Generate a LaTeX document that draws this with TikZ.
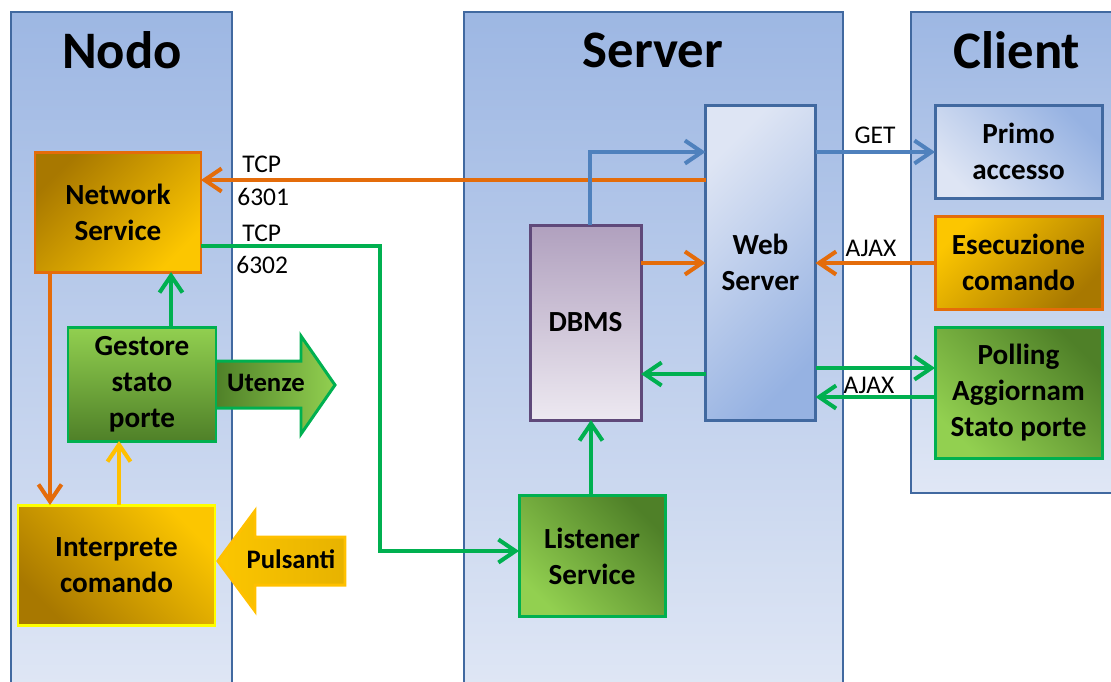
\documentclass[tikz,border=0pt]{standalone}
\usepackage{fontspec}
\setmainfont{Carlito}
\usetikzlibrary{arrows.meta}
\definecolor{colborder}{RGB}{65,105,160}
\definecolor{coltop}{RGB}{157,183,227}
\definecolor{colbot}{RGB}{224,231,245}
\definecolor{lorange}{RGB}{228,108,10}
\definecolor{lgreen}{RGB}{0,176,80}
\definecolor{lblue}{RGB}{79,129,189}
\definecolor{lyellow}{RGB}{255,192,0}
\definecolor{darkgold}{RGB}{168,120,0}
\definecolor{brightgold}{RGB}{252,198,0}
\definecolor{lightgr}{RGB}{146,208,80}
\definecolor{darkgr}{RGB}{79,128,40}
\definecolor{dbtop}{RGB}{176,160,190}
\definecolor{dbbot}{RGB}{237,233,241}
\definecolor{dbborder}{RGB}{95,73,122}
\definecolor{wslight}{RGB}{222,229,244}
\definecolor{wsblue}{RGB}{150,178,226}
\definecolor{yborder}{RGB}{255,255,0}
\begin{document}
\begin{tikzpicture}[x=0.02cm,y=-0.02cm,
  column/.style={draw=colborder, line width=1.4pt, top color=coltop, bottom color=colbot},
  title/.style={font=\fontsize{30}{36}\selectfont\bfseries, inner sep=0pt},
  box/.style 2 args={minimum width=#1*0.02cm, minimum height=#2*0.02cm, inner sep=0pt, outer sep=0pt, line width=1.7pt, align=center, font=\fontsize{16.6}{20.5}\selectfont\bfseries},
  goldTL/.style={draw=lorange, top color=darkgold, bottom color=brightgold, shading angle=45},
  goldTLy/.style={draw=lorange, top color=brightgold, bottom color=darkgold, shading angle=45},
  goldBL/.style={draw=yborder, top color=brightgold, bottom color=darkgold, shading angle=-45},
  greenV/.style={draw=lgreen, top color=lightgr, bottom color=darkgr},
  greenBL/.style={draw=lgreen, top color=darkgr, bottom color=lightgr, shading angle=-45},
  dbstyle/.style={draw=dbborder, top color=dbtop, bottom color=dbbot},
  wsstyle/.style={draw=colborder, top color=wslight, bottom color=wsblue, shading angle=45},
  pastyle/.style={draw=colborder, top color=wsblue, bottom color=wslight, shading angle=-45},
  conn/.style={line width=2.3pt, -{Straight Barb[length=3.4mm,width=4.6mm]}},
  lbl/.style={font=\fontsize{14.5}{17}\selectfont, inner sep=0pt},
  arrowtxt/.style={font=\fontsize{15.2}{18}\selectfont\bfseries, inner sep=0pt}
]
\useasboundingbox (0,0) rectangle (1111,681);
% columns
\path[column] (11,12) rectangle (232,700);
\path[column] (464,12) rectangle (843,700);
\path[column] (911,12) rectangle (1125,493);
\node[title] (tnodo) at (122,50) {Nodo};
\node[title] (tserver) at (653,50) {Server};
\node[title] (tclient) at (1017,50) {Client};

% big arrows
\path[draw=lgreen, line width=1.7pt, left color=darkgr, right color=lightgr]
  (215,361) -- (301,361) -- (301,336) -- (335,385) -- (301,434) -- (301,408) -- (215,408) -- cycle;
\node[arrowtxt] (utenze) at (266,383) {Utenze};
\path[draw=lyellow, line width=1.7pt, left color=brightgold, right color=brightgold!75!darkgold]
  (345,537) -- (255,537) -- (255,511) -- (218,561) -- (255,611) -- (255,585) -- (345,585) -- cycle;
\node[arrowtxt] (pulsanti) at (291,559) {Pulsanti};

% boxes
\node[box={166}{120}, goldTL] (ns) at (118,212) {Network\\Service};
\node[box={148}{114}, greenV] (gs) at (142,384) {Gestore\\stato\\porte};
\node[box={197}{120}, goldBL] (ic) at (116.5,565) {Interprete\\comando};
\node[box={111}{195}, dbstyle] (db) at (585.5,322.5) {DBMS};
\node[box={110}{315}, wsstyle] (ws) at (760.5,262.5) {Web\\Server};
\node[box={146}{121}, greenBL] (ls) at (592,556) {Listener\\Service};
\node[box={167}{93}, pastyle] (pa) at (1018.5,151.5) {Primo\\accesso};
\node[box={167}{93}, goldTLy] (ec) at (1018.5,262.5) {Esecuzione\\comando};
\node[box={167}{131}, greenBL] (pol) at (1018.5,392.5) {Polling\\Aggiornam\\Stato porte};

% connectors
\draw[conn, lorange] (ws.west |- 0,180) -- (ns.east |- 0,180);
\node[lbl, anchor=west] (tcp1) at (242,164) {TCP};
\node[lbl, anchor=west] (p6301) at (237,197) {6301};
\draw[conn, lgreen] (ns.east |- 0,246) -- (380,246) -- (380,551) -- (ls.west |- 0,551);
\node[lbl, anchor=west] (tcp2) at (242,233) {TCP};
\node[lbl, anchor=west] (p6302) at (236,265) {6302};
\draw[conn, lblue] (db.north -| 590,0) -- (590,152) -- (ws.west |- 0,152);
\draw[conn, lorange] (db.east |- 0,263) -- (ws.west |- 0,263);
\draw[conn, lgreen] (ws.west |- 0,374) -- (db.east |- 0,374);
\draw[conn, lgreen] (ls.north -| 591,0) -- (db.south -| 591,0);
\draw[conn, lblue] (ws.east |- 0,152) -- (pa.west |- 0,152);
\node[lbl] (get) at (875,135) {GET};
\draw[conn, lorange] (ec.west |- 0,263) -- (ws.east |- 0,263);
\node[lbl] (ajax1) at (871,248) {AJAX};
\draw[conn, lgreen] (ws.east |- 0,368) -- (pol.west |- 0,368);
\draw[conn, lgreen] (pol.west |- 0,397) -- (ws.east |- 0,397);
\node[lbl] (ajax2) at (869,385) {AJAX};
\draw[conn, lgreen] (gs.north -| 171,0) -- (ns.south -| 171,0);
\draw[conn, lorange] (ns.south -| 50,0) -- (ic.north -| 50,0);
\draw[conn, lyellow] (ic.north -| 119,0) -- (gs.south -| 119,0);
\end{tikzpicture}
\end{document}
